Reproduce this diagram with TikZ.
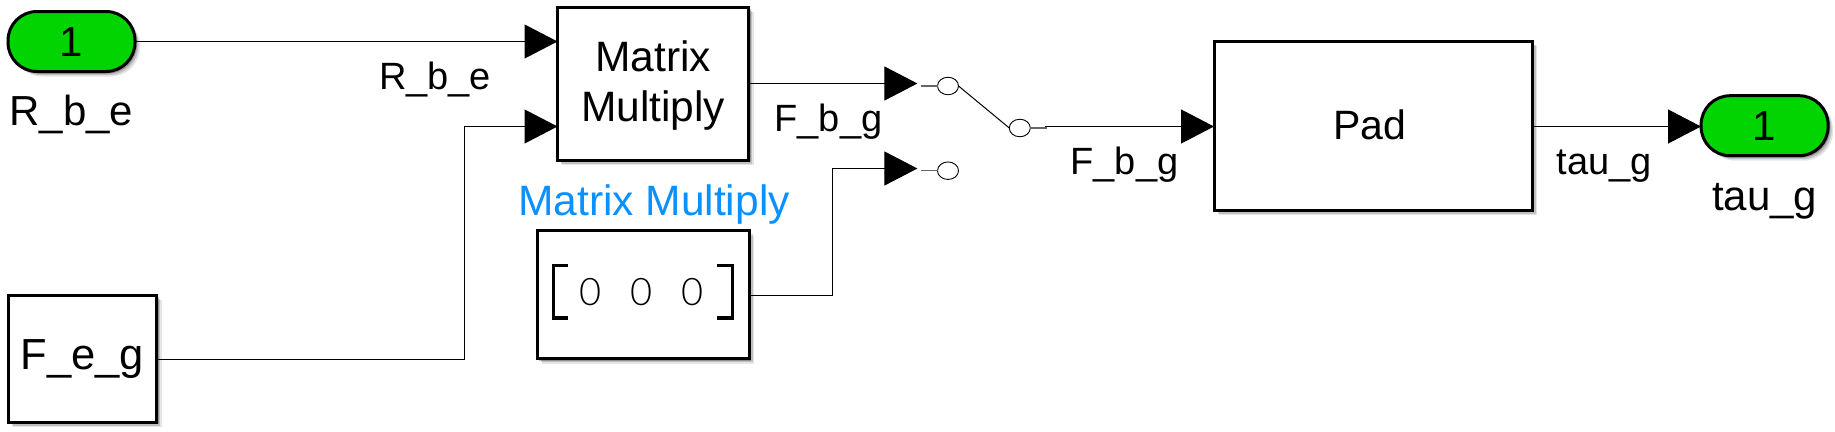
\documentclass[tikz,border=0pt]{standalone}
\usepackage{fontspec}
\setmainfont{Liberation Sans}
\newfontfamily\thinzero[UprightFont=* Light]{Lato}
\usetikzlibrary{arrows.meta,shadows,shapes.geometric}
\definecolor{portgreen}{HTML}{02D402}
\definecolor{nameblue}{HTML}{0A90FF}
\newcommand{\fsz}[2][50]{\fontsize{#2}{#1}\selectfont}
\tikzset{
  softshadow/.style={
    drop shadow={shadow xshift=5pt,shadow yshift=-5pt,opacity=.10,fill=black},
    drop shadow={shadow xshift=3.5pt,shadow yshift=-3.5pt,opacity=.16,fill=black},
    drop shadow={shadow xshift=2pt,shadow yshift=-2pt,opacity=.25,fill=black}},
  blockbox/.style={draw=black,fill=white,line width=3pt,outer sep=0pt,inner sep=0pt,align=center,softshadow,font=\fsz{41}},
  portpill/.style={draw=black,fill=portgreen,line width=3pt,outer sep=0pt,inner sep=0pt,rounded corners=29pt,
    minimum width=127pt,minimum height=60pt,softshadow,text height=30pt,text depth=0pt,font=\fsz{42}},
  sig/.style={draw=black,line width=1.1pt,-{Triangle[length=33pt,width=34pt]}},
  wire/.style={draw=black,line width=1.1pt},
  stub/.style={draw=black!60,line width=1.3pt},
  swpin/.style={ellipse,draw=black,fill=white,line width=.9pt,minimum width=21pt,minimum height=17.5pt,inner sep=0pt,outer sep=0pt},
  lab/.style={inner sep=0pt,outer sep=0pt,anchor=base,font=\fsz{38}},
  biglab/.style={inner sep=0pt,outer sep=0pt,anchor=base,font=\fsz{42}},
  boxtxt/.style={inner sep=0pt,outer sep=0pt,align=center,font=\fsz[50.5]{42.5}},
  zerotxt/.style={inner sep=0pt,outer sep=0pt,anchor=base,font=\thinzero\fsz{38}},
  brk/.style={draw=black,line width=3.2pt}
}
\begin{document}
\begin{tikzpicture}[x=1pt,y=-1pt]
\useasboundingbox (0,0) rectangle (1835,431);
% blocks
\node[portpill] (inp) at (71.5,41.5) {1};
\node[biglab] (inplab) at (71.5,125.5) {R\_b\_e};
\node[blockbox,minimum width=148.6pt,minimum height=127pt,font=\fsz{43.5}] (feg) at (82.3,358.7) {F\_e\_g};
\node[blockbox,minimum width=191.5pt,minimum height=153pt] (mm) at (653.2,83.5) {};
\node[boxtxt] (mmtxt) at (653.2,85.5) {Matrix\\Multiply};
\node[biglab,font=\fsz{42.5},text=nameblue] (mmname) at (654,215) {Matrix Multiply};
\node[blockbox,minimum width=212pt,minimum height=127.7pt] (cst) at (643,294.8) {};
\node[zerotxt] (z1) at (590.6,305) {0};
\node[zerotxt] (z2) at (642,305) {0};
\node[zerotxt] (z3) at (693,305) {0};
\draw[brk] (568,265.7) -- (553.5,265.7) -- (553.5,318) -- (568,318);
\draw[brk] (717,265.7) -- (732.5,265.7) -- (732.5,318) -- (717,318);
\node[blockbox,minimum width=318pt,minimum height=169.3pt] (pad) at (1373,125.7) {};
\node[inner sep=0pt,outer sep=0pt,anchor=base,font=\fsz{41}] (padtxt) at (1370,139) {Pad};
\node[portpill] (outp) at (1764.6,125.7) {1};
\node[biglab] (outlab) at (1764.6,210) {tau\_g};
% switch
\node[swpin] (sw1) at (948,86) {};
\node[swpin] (sw2) at (948,170.7) {};
\node[swpin] (swo) at (1019.8,128) {};
% free ends
\coordinate (mmin1) at (557.5,41.5);
\coordinate (mmin2) at (557.5,126.5);
\coordinate (sw1tip) at (917.4,83.5);
\coordinate (sw2tip) at (917.4,168.5);
\coordinate (sw1st) at (920.5,86);
\coordinate (sw2st) at (920.5,170.7);
\coordinate (swost) at (1047,128);
\coordinate (swout) at (1045,126.5);
\coordinate (cstout) at (749,295.5);
\coordinate (fegout) at (156.6,359.5);
\coordinate (padin) at (1214,126.5);
\coordinate (padout) at (1532,126.5);
\coordinate (outin) at (1701,126.5);
% connectors
\draw[sig] (inp.east) -- (mmin1);
\draw[sig] (fegout) -- (464.5,359.5) -- (464.5,126.5) -- (mmin2);
\draw[sig] (mm.east) -- (sw1tip);
\draw[sig] (cstout) -- (832.5,295.5) -- (832.5,168.5) -- (sw2tip);
\draw[stub] (sw1st) -- (sw1.west);
\draw[stub] (sw2st) -- (sw2.west);
\draw[stub] (swo.east) -- (swost);
\draw[wire,line width=1pt] (sw1.east) -- (swo.west);
\draw[sig] (swout) -- (padin);
\draw[sig] (padout) -- (outin);
% line labels
\node[lab] (l1) at (435,89) {R\_b\_e};
\node[lab] (l2) at (828.5,131.7) {F\_b\_g};
\node[lab] (l3) at (1124.5,174.3) {F\_b\_g};
\node[lab] (l4) at (1604.5,174) {tau\_g};
\end{tikzpicture}
\end{document}
